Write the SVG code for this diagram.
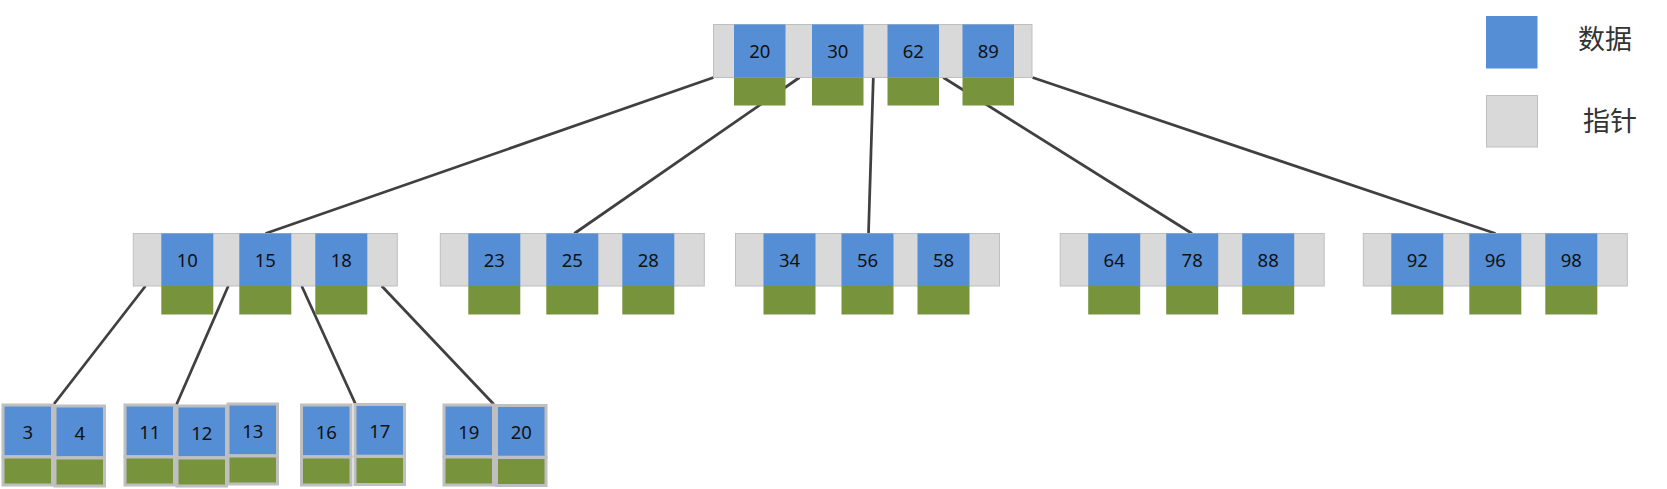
<svg xmlns="http://www.w3.org/2000/svg" width="1667" height="489" viewBox="0 0 1667 489">
<style>
.ptr{fill:#D9D9D9;stroke:#BFBFBF;stroke-width:1}
.data{fill:#558ED5}
.rec{fill:#77933C}
.leafd{fill:#558ED5;stroke:#BFBFBF;stroke-width:3}
.leafr{fill:#77933C;stroke:#BFBFBF;stroke-width:3}
.num{font-family:"Noto Sans","Open Sans","Liberation Sans",sans-serif;font-size:18.5px;fill:#111;text-anchor:middle}
.leg{font-family:"Noto Sans CJK SC","Noto Sans",sans-serif;font-size:27px;fill:#333}
.edge{stroke:#404040;stroke-width:2.75;fill:none;stroke-linecap:butt}
</style>
<rect width="1667" height="489" fill="#FFFFFF"/>
<g id="connectors">
<line class="edge" x1="713.5" y1="77.5" x2="265.5" y2="233.5"/>
<line class="edge" x1="799.5" y1="77.5" x2="574.3" y2="233.5"/>
<line class="edge" x1="873.3" y1="77.5" x2="868.5" y2="233.5"/>
<line class="edge" x1="943.3" y1="77.5" x2="1192" y2="233.5"/>
<line class="edge" x1="1032.5" y1="77.5" x2="1495.5" y2="233.5"/>
<line class="edge" x1="145.5" y1="286" x2="54" y2="404"/>
<line class="edge" x1="228.3" y1="286" x2="176.5" y2="404.5"/>
<line class="edge" x1="301.7" y1="286" x2="355.5" y2="404"/>
<line class="edge" x1="381.7" y1="286" x2="494" y2="404.5"/>
</g>
<g id="node-root">
<rect class="ptr" x="713.5" y="24.5" width="318.5" height="53"/>
<rect class="data" x="734" y="24.5" width="51.5" height="53"/>
<rect class="data" x="812" y="24.5" width="51.5" height="53"/>
<rect class="data" x="887.5" y="24.5" width="51.5" height="53"/>
<rect class="data" x="962.5" y="24.5" width="51.5" height="53"/>
<rect class="rec" x="734" y="77.5" width="51.5" height="28"/>
<rect class="rec" x="812" y="77.5" width="51.5" height="28"/>
<rect class="rec" x="887.5" y="77.5" width="51.5" height="28"/>
<rect class="rec" x="962.5" y="77.5" width="51.5" height="28"/>
<text class="num" x="759.75" y="58">20</text>
<text class="num" x="837.75" y="58">30</text>
<text class="num" x="913.25" y="58">62</text>
<text class="num" x="988.25" y="58">89</text>
</g>
<g id="node-10-15-18">
<rect class="ptr" x="133.3" y="233.5" width="264" height="52.5"/>
<rect class="data" x="161.3" y="233.5" width="52" height="52.5"/>
<rect class="data" x="239.3" y="233.5" width="52" height="52.5"/>
<rect class="data" x="315.3" y="233.5" width="52" height="52.5"/>
<rect class="rec" x="161.3" y="286" width="52" height="28.5"/>
<rect class="rec" x="239.3" y="286" width="52" height="28.5"/>
<rect class="rec" x="315.3" y="286" width="52" height="28.5"/>
<text class="num" x="187.3" y="267">10</text>
<text class="num" x="265.3" y="267">15</text>
<text class="num" x="341.3" y="267">18</text>
</g>
<g id="node-23-25-28">
<rect class="ptr" x="440.3" y="233.5" width="264" height="52.5"/>
<rect class="data" x="468.3" y="233.5" width="52" height="52.5"/>
<rect class="data" x="546.3" y="233.5" width="52" height="52.5"/>
<rect class="data" x="622.3" y="233.5" width="52" height="52.5"/>
<rect class="rec" x="468.3" y="286" width="52" height="28.5"/>
<rect class="rec" x="546.3" y="286" width="52" height="28.5"/>
<rect class="rec" x="622.3" y="286" width="52" height="28.5"/>
<text class="num" x="494.3" y="267">23</text>
<text class="num" x="572.3" y="267">25</text>
<text class="num" x="648.3" y="267">28</text>
</g>
<g id="node-34-56-58">
<rect class="ptr" x="735.5" y="233.5" width="264" height="52.5"/>
<rect class="data" x="763.5" y="233.5" width="52" height="52.5"/>
<rect class="data" x="841.5" y="233.5" width="52" height="52.5"/>
<rect class="data" x="917.5" y="233.5" width="52" height="52.5"/>
<rect class="rec" x="763.5" y="286" width="52" height="28.5"/>
<rect class="rec" x="841.5" y="286" width="52" height="28.5"/>
<rect class="rec" x="917.5" y="286" width="52" height="28.5"/>
<text class="num" x="789.5" y="267">34</text>
<text class="num" x="867.5" y="267">56</text>
<text class="num" x="943.5" y="267">58</text>
</g>
<g id="node-64-78-88">
<rect class="ptr" x="1060.2" y="233.5" width="264" height="52.5"/>
<rect class="data" x="1088.2" y="233.5" width="52" height="52.5"/>
<rect class="data" x="1166.2" y="233.5" width="52" height="52.5"/>
<rect class="data" x="1242.2" y="233.5" width="52" height="52.5"/>
<rect class="rec" x="1088.2" y="286" width="52" height="28.5"/>
<rect class="rec" x="1166.2" y="286" width="52" height="28.5"/>
<rect class="rec" x="1242.2" y="286" width="52" height="28.5"/>
<text class="num" x="1114.2" y="267">64</text>
<text class="num" x="1192.2" y="267">78</text>
<text class="num" x="1268.2" y="267">88</text>
</g>
<g id="node-92-96-98">
<rect class="ptr" x="1363.3" y="233.5" width="264" height="52.5"/>
<rect class="data" x="1391.3" y="233.5" width="52" height="52.5"/>
<rect class="data" x="1469.3" y="233.5" width="52" height="52.5"/>
<rect class="data" x="1545.3" y="233.5" width="52" height="52.5"/>
<rect class="rec" x="1391.3" y="286" width="52" height="28.5"/>
<rect class="rec" x="1469.3" y="286" width="52" height="28.5"/>
<rect class="rec" x="1545.3" y="286" width="52" height="28.5"/>
<text class="num" x="1417.3" y="267">92</text>
<text class="num" x="1495.3" y="267">96</text>
<text class="num" x="1571.3" y="267">98</text>
</g>
<g id="leaf-3-4">
<rect class="leafd" x="3" y="405" width="49.5" height="51.7"/>
<rect class="leafr" x="3" y="457" width="49.5" height="28"/>
<text class="num" x="27.75" y="438.5">3</text>
<rect class="leafd" x="55" y="406" width="49.5" height="51.7"/>
<rect class="leafr" x="55" y="458" width="49.5" height="28"/>
<text class="num" x="79.75" y="439.5">4</text>
</g>
<g id="leaf-11-12-13">
<rect class="leafd" x="125" y="405" width="49.5" height="51.7"/>
<rect class="leafr" x="125" y="457" width="49.5" height="28"/>
<text class="num" x="149.75" y="438.5">11</text>
<rect class="leafd" x="177" y="406" width="49.5" height="51.7"/>
<rect class="leafr" x="177" y="458" width="49.5" height="28"/>
<text class="num" x="201.75" y="439.5">12</text>
<rect class="leafd" x="228" y="404" width="49.5" height="51.7"/>
<rect class="leafr" x="228" y="456" width="49.5" height="28"/>
<text class="num" x="252.75" y="437.5">13</text>
</g>
<g id="leaf-16-17">
<rect class="leafd" x="301.5" y="405" width="49.5" height="51.7"/>
<rect class="leafr" x="301.5" y="457" width="49.5" height="28"/>
<text class="num" x="326.25" y="438.5">16</text>
<rect class="leafd" x="355" y="404.5" width="49.5" height="51.7"/>
<rect class="leafr" x="355" y="456.5" width="49.5" height="28"/>
<text class="num" x="379.75" y="438">17</text>
</g>
<g id="leaf-19-20">
<rect class="leafd" x="444" y="405" width="49.5" height="51.7"/>
<rect class="leafr" x="444" y="457" width="49.5" height="28"/>
<text class="num" x="468.75" y="438.5">19</text>
<rect class="leafd" x="496.5" y="405.5" width="49.5" height="51.7"/>
<rect class="leafr" x="496.5" y="457.5" width="49.5" height="28"/>
<text class="num" x="521.25" y="439">20</text>
</g>
<g id="legend">
<rect class="data" x="1486" y="16" width="51.5" height="52.5"/>
<text class="leg" x="1578" y="49">数据</text>
<rect class="ptr" x="1486.5" y="95.5" width="51" height="51.5"/>
<text class="leg" x="1583" y="130.5">指针</text>
</g>
</svg>
